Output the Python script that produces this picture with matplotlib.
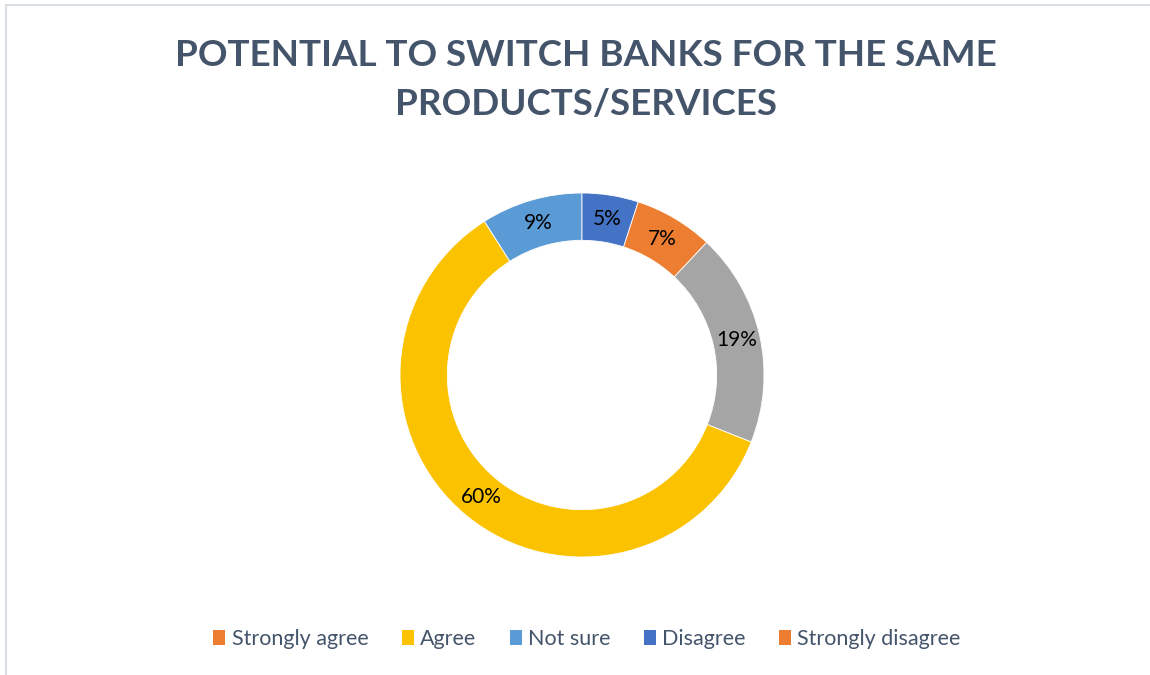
import matplotlib
matplotlib.use('Agg')
import matplotlib.pyplot as plt
from matplotlib.patches import Patch, Rectangle

# Survey responses, in series order
categories = ['Strongly agree', 'Agree', 'Not sure', 'Disagree', 'Strongly disagree']
shares = [19, 60, 9, 5, 7]
slice_colors = ['#A5A5A5', '#FBC200', '#5B9BD5', '#4472C4', '#ED7D31']
legend_colors = ['#ED7D31', '#FBC200', '#5B9BD5', '#4472C4', '#ED7D31']

title = 'POTENTIAL TO SWITCH BANKS FOR THE SAME\nPRODUCTS/SERVICES'
text_color = '#44546A'

plt.rcParams['font.family'] = ['Lato', 'DejaVu Sans']

fig = plt.figure(figsize=(11.5, 6.75), dpi=100)
W, H = 1150, 675

# light chart-area frame
fig.add_artist(Rectangle((6 / W, -0.1), 1.2, 1 - 5 / H + 0.1, transform=fig.transFigure,
                         fill=False, edgecolor='#D9DEE4', linewidth=1.5))

fig.text(586 / W, 1 - 80 / H, title, ha='center', va='center', fontsize=26.5,
         fontweight='bold', color=text_color, linespacing=1.62)

# doughnut: centre (582, 375) px, outer radius 182 px
cx, cy, r = 582, 375, 182
ax = fig.add_axes([(cx - r) / W, (H - cy - r) / H, 2 * r / W, 2 * r / H])
start = 90 - 360 * (shares[3] + shares[4]) / sum(shares)
wedges, texts, autotexts = ax.pie(
    shares, colors=slice_colors, startangle=start, counterclock=False,
    radius=1, autopct='%d%%', pctdistance=0.87,
    wedgeprops=dict(width=0.26, edgecolor='white', linewidth=0.6),
    textprops=dict(fontsize=15, color='black'))
ax.set_xlim(-1, 1)
ax.set_ylim(-1, 1)
ax.set_aspect('equal')
ax.axis('off')

handles = [Patch(facecolor=c, edgecolor='none') for c in legend_colors]
fig.legend(handles, categories, loc='center', bbox_to_anchor=(587 / W, 1 - 639 / H),
           ncol=5, frameon=False, fontsize=15.5, labelcolor=text_color,
           handlelength=0.55, handleheight=0.7, handletextpad=0.3, columnspacing=1.55)

fig.savefig('out.png', dpi=100)
